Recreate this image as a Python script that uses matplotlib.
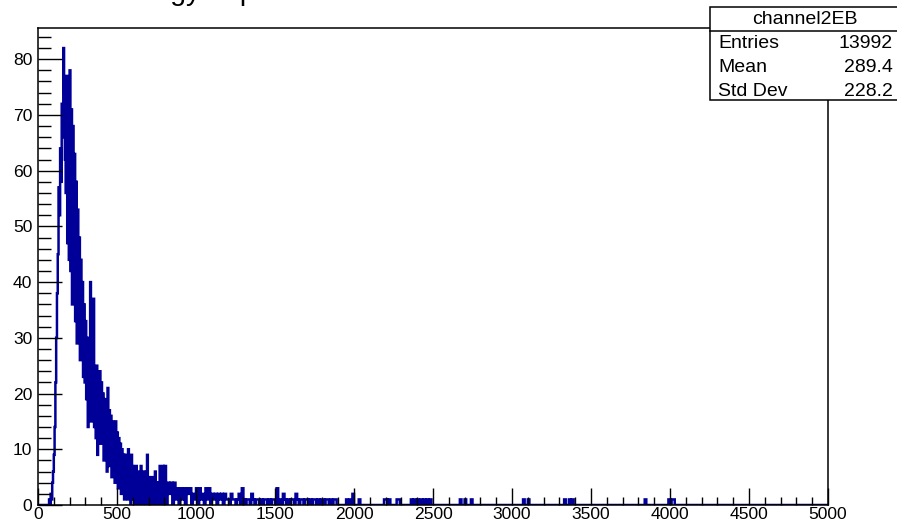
import numpy as np
import matplotlib
matplotlib.use("Agg")
import matplotlib.pyplot as plt
from matplotlib.patches import Rectangle
from matplotlib.ticker import MultipleLocator

plt.rcParams['font.family'] = ['Liberation Sans', 'DejaVu Sans']

x_min, x_max = 0, 5000

# fine binning (5 units) over the peak: bins 0 .. 795
fine_width, fine_stop = 5, 800
counts_fine = [
    0, 0, 0, 0, 0, 0, 0, 0, 0, 0, 0, 0, 0, 0,           # 0-65
    1, 0, 2, 1, 4, 6,                                     # 70-95
    9, 14, 22, 30, 38, 45, 57, 52, 64, 58,               # 100-145
    72, 66, 82, 74, 62, 56, 77, 47, 68, 44,              # 150-195
    78, 42, 71, 36, 68, 40, 63, 33, 58, 29,              # 200-245
    53, 30, 48, 26, 44, 27, 40, 23, 36, 22,              # 250-295
    33, 19, 30, 14, 28, 19, 40, 15, 26, 16,              # 300-345
    37, 14, 24, 12, 25, 9, 22, 13, 24, 11,               # 350-395
    22, 12, 20, 8, 19, 9, 18, 6, 21, 7,                  # 400-445
    17, 9, 16, 5, 15, 8, 14, 4, 15, 6,                   # 450-495
    13, 3, 12, 4, 11, 2, 10, 3, 9, 1,                    # 500-545
    9, 2, 8, 1, 10, 2, 8, 0, 9, 2,                       # 550-595
    7, 1, 6, 0, 7, 2, 6, 0, 5, 1,                        # 600-645
    7, 0, 6, 1, 5, 0, 6, 1, 9, 0,                        # 650-695
    5, 1, 4, 0, 5, 0, 4, 1, 6, 0,                        # 700-745
    4, 1, 4, 0, 7, 1, 4, 0, 7, 1,                        # 750-795
]

# coarser binning (10 units) from 800 on: bins 800 .. 1890
coarse_width = 10
counts_coarse = [
    7, 0, 4, 2, 4, 0, 4, 1, 3, 0,             # 800-890
    3, 1, 3, 0, 3, 2, 3, 0, 2, 1,             # 900-990
    3, 0, 3, 1, 2, 0, 3, 1, 3, 0,             # 1000-1090
    2, 1, 2, 0, 2, 1, 2, 0, 2, 1,             # 1100-1190
    1, 0, 2, 1, 1, 0, 1, 2, 0, 3,             # 1200-1290
    1, 0, 1, 1, 0, 2, 1, 0, 1, 1,             # 1300-1390
    0, 1, 0, 1, 1, 0, 1, 0, 1, 1,             # 1400-1490
    0, 3, 0, 1, 0, 2, 1, 0, 1, 0,             # 1500-1590
    1, 1, 0, 2, 1, 0, 1, 1, 0, 1,             # 1600-1690
    1, 0, 1, 0, 1, 1, 0, 1, 0, 1,             # 1700-1790
    1, 0, 1, 1, 0, 1, 0, 1, 1, 0,             # 1800-1890
]

# isolated entries further out in the tail (lower bin edge, count)
tail_edges = [1950, 1970, 1990, 2030, 2190, 2200, 2220, 2270, 2280,
              2360, 2380, 2400, 2420, 2440, 2460, 2480, 2670, 2700,
              2740, 3070, 3100, 3330, 3360, 3380, 3840, 3990, 4010, 4020]
tail_counts = [1, 1, 2, 1, 1, 1, 1, 1, 1,
               1, 1, 1, 1, 1, 1, 1, 1, 1,
               1, 1, 1, 1, 1, 1, 1, 1, 1, 1]

hist_name = "channel2EB"
stat_labels = ["Entries", "Mean", "Std Dev"]
stat_values = ["13992", "289.4", "228.2"]
title_text = "Energy deposited in channel 2 EB"

# ---- assemble bin edges and contents ----
edges = np.concatenate([np.arange(x_min, fine_stop, fine_width),
                        np.arange(fine_stop, x_max + coarse_width, coarse_width)])
coarse = np.zeros(len(np.arange(fine_stop, x_max, coarse_width)))
coarse[:len(counts_coarse)] = counts_coarse
for e, c in zip(tail_edges, tail_counts):
    coarse[(e - fine_stop) // coarse_width] = c
counts = np.concatenate([np.asarray(counts_fine, float), coarse])

# ---- figure ----
W, H = 897, 524
fig = plt.figure(figsize=(W / 100, H / 100), dpi=100)
fig.patch.set_facecolor("white")

left, right, top, bottom = 38, 828, 28, 505
ax = fig.add_axes([left / W, 1 - bottom / H, (right - left) / W, (bottom - top) / H])

ax.stairs(counts, edges, color="#000099", lw=1.8)

ax.set_xlim(x_min, x_max)
ax.set_ylim(0, 85.6)

ax.xaxis.set_major_locator(MultipleLocator(500))
ax.xaxis.set_minor_locator(MultipleLocator(100))
ax.yaxis.set_major_locator(MultipleLocator(10))
ax.yaxis.set_minor_locator(MultipleLocator(2))

ax.tick_params(axis="x", which="major", direction="in", length=12, width=1,
               labelsize=12.6, pad=1.5, top=False)
ax.tick_params(axis="x", which="minor", direction="in", length=6, width=1, top=False)
ax.tick_params(axis="y", which="major", direction="in", length=17, width=1,
               labelsize=12.6, pad=4, right=False)
ax.tick_params(axis="y", which="minor", direction="in", length=9, width=1, right=False)

for sp in ax.spines.values():
    sp.set_linewidth(1.1)
    sp.set_color("black")

# title sitting at the very top edge of the canvas
fig.text(110 / W, 1.0, title_text, fontsize=20.5, ha="left", va="baseline")

# ---- statistics box ----
bx0, bx1, by0, by1, bsep = 710, 902, 7, 100, 31
def fx(p):
    return p / W
def fy(p):
    return 1 - p / H

fig.patches.append(Rectangle((fx(bx0), fy(by1)), fx(bx1) - fx(bx0), fy(by0) - fy(by1),
                             transform=fig.transFigure, facecolor="white",
                             edgecolor="black", lw=1.1, zorder=5))
fig.lines.append(plt.Line2D([fx(bx0), fx(bx1)], [fy(bsep), fy(bsep)],
                            transform=fig.transFigure, color="black", lw=1.1, zorder=6))
fig.text(fx(805), fy(19), hist_name, fontsize=14, ha="center", va="center", zorder=7)
row_y = [44, 68, 91]
for lab, val, yy in zip(stat_labels, stat_values, row_y):
    fig.text(fx(718), fy(yy), lab, fontsize=14, ha="left", va="center", zorder=7)
    fig.text(fx(893), fy(yy), val, fontsize=14, ha="right", va="center", zorder=7)

fig.savefig("out.png", dpi=100)
